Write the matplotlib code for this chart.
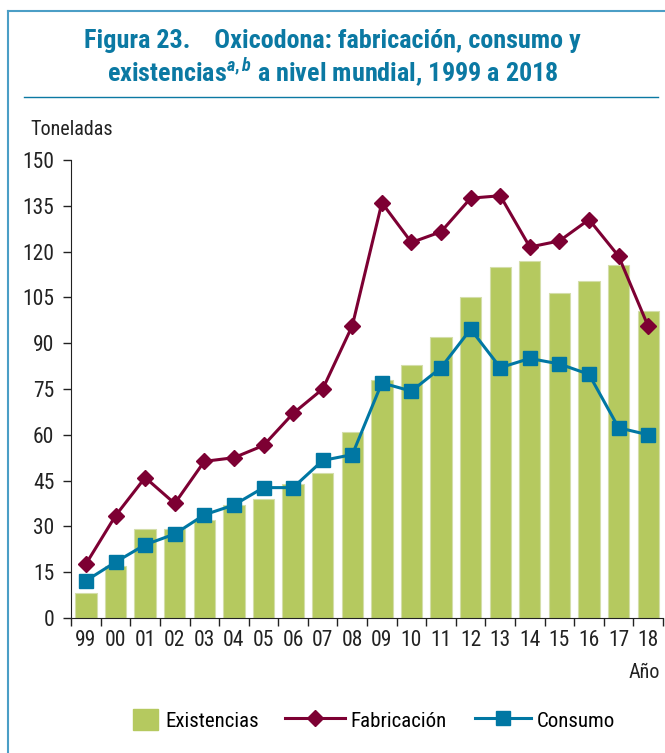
import matplotlib
matplotlib.use('Agg')
import matplotlib.pyplot as plt
from matplotlib.lines import Line2D
from matplotlib.patches import Patch
import numpy as np

years = ['99', '00', '01', '02', '03', '04', '05', '06', '07', '08',
         '09', '10', '11', '12', '13', '14', '15', '16', '17', '18']
existencias = [8.2, 17, 29, 29, 32, 37, 39, 44, 47.5, 61,
               78, 83, 92, 105, 115, 117, 106.5, 110.5, 115.5, 100.5]
fabricacion = [17.7, 33.5, 46, 37.5, 51.3, 52.5, 56.5, 67, 75, 95.7,
               136, 123, 126.5, 137.5, 138.3, 121.5, 123.5, 130.5, 118.5, 95.5]
consumo = [12.2, 18.3, 24, 27.5, 33.8, 37, 42.7, 42.7, 51.6, 53.5,
           77, 74.3, 82, 94.6, 82, 85, 83.2, 79.8, 62.3, 60]

plt.rcParams['font.family'] = ['Roboto Condensed', 'DejaVu Sans']
plt.rcParams['mathtext.fontset'] = 'custom'
plt.rcParams['mathtext.it'] = 'Roboto Condensed:italic:bold'
plt.rcParams['mathtext.rm'] = 'Roboto Condensed:bold'

green = '#b5c95f'
red = '#7d0033'
blue = '#0077a3'
title_col = '#0b79a3'
frame_col = '#4b9ec6'
dark = '#222222'

fig = plt.figure(figsize=(6.65, 7.53), dpi=100)
ax = fig.add_axes([0.107, 0.1793, 0.89, 0.6082])

x = np.arange(len(years))
ax.bar(x, existencias, width=0.72, color=green, edgecolor='#d4deaa', linewidth=0.8, zorder=1)
ax.plot(x, fabricacion, color=red, lw=2.2, marker='D', ms=8.5, zorder=3)
ax.plot(x, consumo, color=blue, lw=2.2, marker='s', ms=10, zorder=3)

ax.set_xlim(-0.5, len(years) - 0.5)
ax.set_ylim(0, 150)
ax.set_yticks(range(0, 151, 15))
ax.set_xticks(x)
ax.set_xticklabels(years)
ax.set_xticks(np.arange(-0.5, len(years), 1), minor=True)
ax.tick_params(axis='x', which='major', length=0, pad=9, labelsize=15.5, labelcolor=dark)
ax.tick_params(axis='x', which='minor', length=6, width=1, color=dark)
ax.tick_params(axis='y', length=6, width=1, labelsize=15.5, pad=6, color=dark, labelcolor=dark)
for s in ['top', 'right']:
    ax.spines[s].set_visible(False)
ax.spines['left'].set_color(dark)
ax.spines['bottom'].set_color(dark)

fig.text(0.045, 0.828, 'Toneladas', fontsize=14.5, va='center', ha='left', color=dark)
fig.text(0.992, 0.107, 'Año', fontsize=14.5, va='center', ha='right', color=dark)

fig.text(0.5, 0.945, 'Figura 23.    Oxicodona: fabricación, consumo y',
         fontsize=18.8, fontweight='bold', color=title_col, ha='center', va='center')
fig.text(0.5, 0.903, r'existencias$^{a,b}$ a nivel mundial, 1999 a 2018',
         fontsize=18.8, fontweight='bold', color=title_col, ha='center', va='center')

# marco
fig.add_artist(Line2D([0.012, 0.012], [0.0, 0.986], color=frame_col, lw=1.5))
fig.add_artist(Line2D([0.012, 1.0], [0.986, 0.986], color=frame_col, lw=1.5))
fig.add_artist(Line2D([0.036, 0.99], [0.871, 0.871], color=title_col, lw=1.0))

# leyenda: una por elemento para que el parche sea cuadrado
entries = [
    (Patch(color=green), 'Existencias', 0.200, 1.2, 0.35),
    (Line2D([], [], color=red, lw=2.2, marker='D', ms=8.5), 'Fabricación', 0.4286, 2.9, 0.25),
    (Line2D([], [], color=blue, lw=2.2, marker='s', ms=10), 'Consumo', 0.714, 2.7, 0.25),
]
for h, lab, x0, hl, tp in entries:
    fig.legend([h], [lab], loc='center left', bbox_to_anchor=(x0, 0.044),
               frameon=False, fontsize=15, handlelength=hl, handleheight=1.2,
               handletextpad=tp, borderpad=0, borderaxespad=0)

fig.savefig('out.png', dpi=100)
